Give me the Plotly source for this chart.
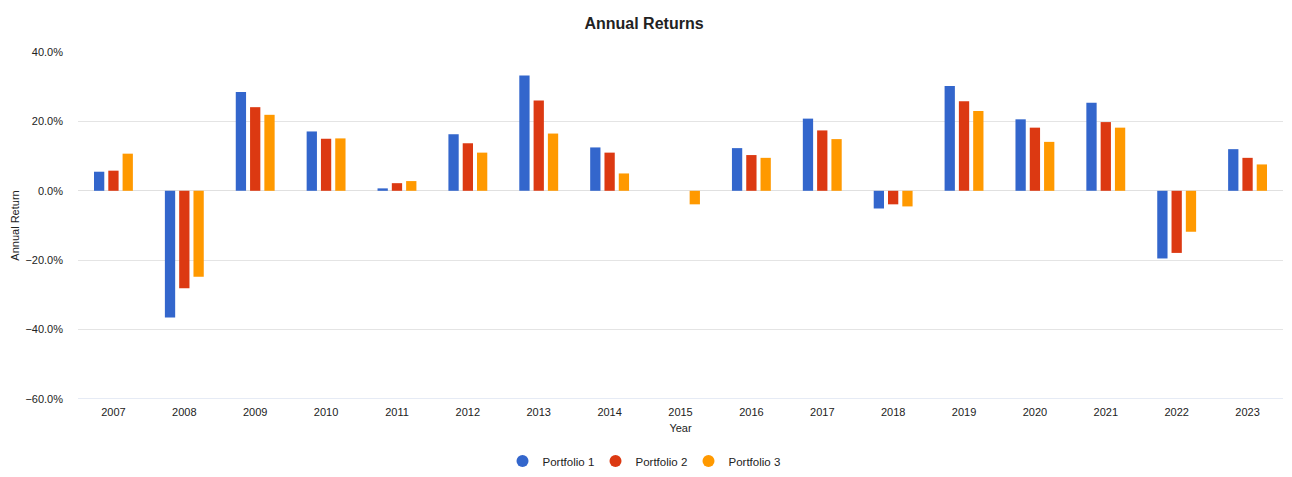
import plotly.graph_objects as go

years = ["2007", "2008", "2009", "2010", "2011", "2012", "2013", "2014", "2015",
         "2016", "2017", "2018", "2019", "2020", "2021", "2022", "2023"]
portfolio1 = [5.5, -36.5, 28.5, 17.1, 0.7, 16.3, 33.2, 12.5, 0.0,
              12.3, 20.8, -5.1, 30.2, 20.6, 25.4, -19.5, 12.0]
portfolio2 = [5.8, -28.1, 24.1, 15.0, 2.2, 13.7, 26.0, 11.0, 0.0,
              10.3, 17.4, -3.9, 25.8, 18.2, 19.8, -17.9, 9.5]
portfolio3 = [10.7, -24.8, 21.9, 15.1, 2.8, 11.0, 16.5, 5.0, -3.9,
              9.5, 14.9, -4.5, 23.0, 14.1, 18.2, -11.8, 7.6]

series = [
    ("Portfolio 1", portfolio1, "#3366CC"),
    ("Portfolio 2", portfolio2, "#DC3912"),
    ("Portfolio 3", portfolio3, "#FF9900"),
]

FONT = "Liberation Sans, Arial, Helvetica, sans-serif"
TXT = "#222222"

# the page body adds an 8px offset, so the figure is 8px smaller on each axis
W, H = 1284, 469
ML, MR, MT, MB = 70, 9, 44, 78

fig = go.Figure()
for name, vals, col in series:
    fig.add_trace(go.Bar(
        x=years, y=vals, name=name, showlegend=False,
        marker=dict(color=col, line=dict(width=0)),
    ))
for name, vals, col in series:
    fig.add_trace(go.Scatter(
        x=[None], y=[None], mode="markers", name=name,
        marker=dict(color=col, size=12, symbol="circle"),
        showlegend=True,
    ))

plot_w = W - ML - MR
plot_h = H - MT - MB
fig.update_layout(
    width=W, height=H,
    margin=dict(l=ML, r=MR, t=MT, b=MB, autoexpand=False),
    paper_bgcolor="white", plot_bgcolor="white",
    font=dict(family=FONT, size=11, color=TXT),
    title=dict(text="<b>Annual Returns</b>", x=636 / W, xanchor="center",
               y=1 - 15 / H, yanchor="middle", yref="container",
               font=dict(family=FONT, size=16, color=TXT)),
    barmode="group", bargap=0.395, bargroupgap=0.28,
    legend=dict(orientation="h", x=(634 - ML) / plot_w, xanchor="center",
                y=-62 / plot_h, yanchor="middle",
                font=dict(family=FONT, size=11.5, color=TXT),
                entrywidth=48, itemsizing="constant"),
)
fig.update_xaxes(
    type="category", showgrid=False, showline=False, zeroline=False,
    ticks="", ticklabelstandoff=5, automargin=False,
    tickfont=dict(family=FONT, size=11, color=TXT),
    title=dict(text="Year", standoff=7, font=dict(family=FONT, size=11, color=TXT)),
)
fig.update_yaxes(
    range=[-60, 40], dtick=20, tick0=0, ticksuffix="%", tickformat=".1f",
    showgrid=True, gridcolor="#e4e4e4", gridwidth=1,
    zeroline=True, zerolinecolor="#e0e0e0", zerolinewidth=1,
    showline=False, ticks="", ticklabelstandoff=14, automargin=False,
    tickfont=dict(family=FONT, size=11, color=TXT),
    title=dict(text="Annual Return", standoff=3, font=dict(family=FONT, size=11, color=TXT)),
)
# bottom axis line (bluish) at -60
fig.add_shape(type="line", xref="paper", yref="y", x0=0, x1=1, y0=-60, y1=-60,
              line=dict(color="#ccd6eb", width=1), layer="below")

fig.write_html("out.html")
